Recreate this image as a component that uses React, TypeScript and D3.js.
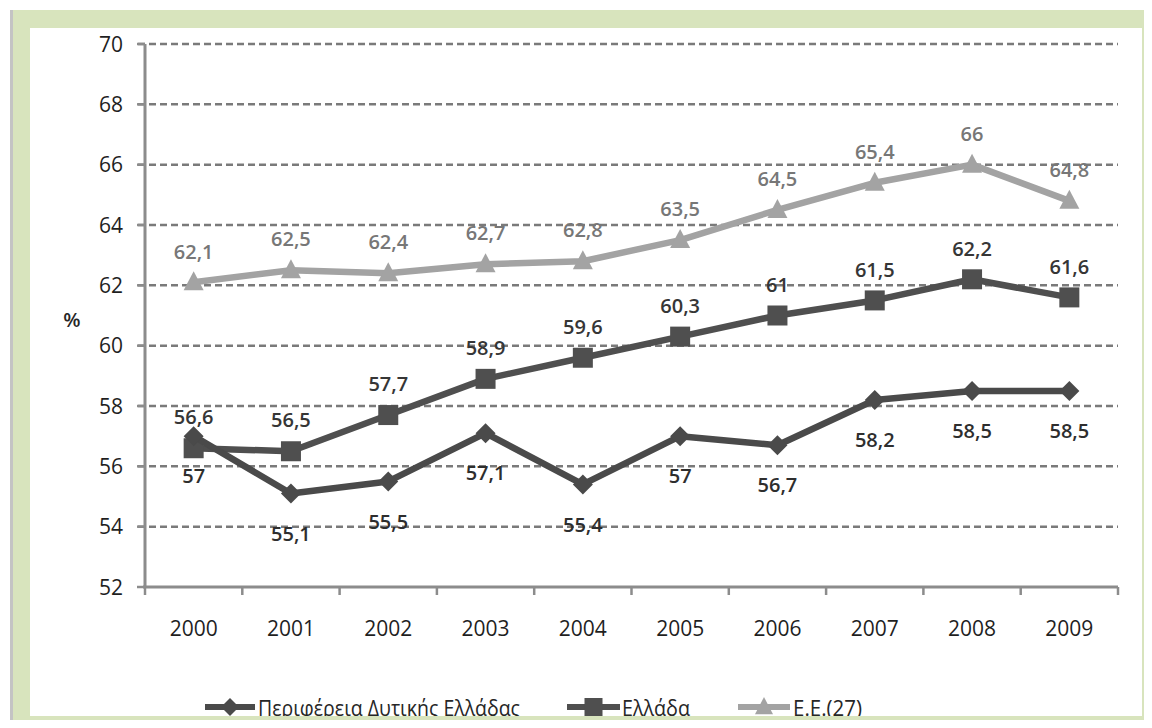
import React, { useEffect, useRef } from 'react';
import * as d3 from 'd3';

const years = ['2000', '2001', '2002', '2003', '2004', '2005', '2006', '2007', '2008', '2009'];
const dytikiValues = [57, 55.1, 55.5, 57.1, 55.4, 57, 56.7, 58.2, 58.5, 58.5];
const elladaValues = [56.6, 56.5, 57.7, 58.9, 59.6, 60.3, 61, 61.5, 62.2, 61.6];
const euValues = [62.1, 62.5, 62.4, 62.7, 62.8, 63.5, 64.5, 65.4, 66, 64.8];
const yTicks = [52, 54, 56, 58, 60, 62, 64, 66, 68, 70];
const seriesNames = ['Περιφέρεια Δυτικής Ελλάδας', 'Ελλάδα', 'Ε.Ε.(27)'];

const FONT = '"Open Sans", "DejaVu Sans", sans-serif';

const App = () => {
  const svgRef = useRef<SVGSVGElement | null>(null);

  useEffect(() => {
    const width = 1152;
    const height = 728;
    const svg = d3.select(svgRef.current);
    svg.selectAll('*').remove();
    svg.attr('width', width).attr('height', height);

    // frame
    svg.append('rect').attr('width', width).attr('height', height).attr('fill', '#ffffff');
    svg.append('rect').attr('x', 10).attr('y', 10).attr('width', width - 10).attr('height', height - 10)
      .attr('fill', '#c4c4c4');
    svg.append('rect').attr('x', 13).attr('y', 10).attr('width', width - 13).attr('height', height - 10)
      .attr('fill', '#d8e4bd');
    svg.append('rect').attr('x', 30).attr('y', 28).attr('width', 1142 - 30).attr('height', 716 - 28)
      .attr('fill', '#ffffff');

    const x = d3.scaleBand().domain(years).range([145, 1118]);
    const y = d3.scaleLinear().domain([52, 70]).range([587, 44]);
    const cx = (d: string) => (x(d) as number) + x.bandwidth() / 2;

    // grid
    svg.append('g').selectAll('line')
      .data(yTicks.filter(t => t !== 52))
      .enter().append('line')
      .attr('x1', 138).attr('x2', 1118)
      .attr('y1', d => y(d)).attr('y2', d => y(d))
      .attr('stroke', '#7a7a7a').attr('stroke-width', 2.5)
      .attr('stroke-dasharray', '7 4');

    // y axis
    const yAxis = svg.append('g');
    yAxis.append('line').attr('x1', 145).attr('x2', 145).attr('y1', y(70)).attr('y2', y(52))
      .attr('stroke', '#8c8c8c').attr('stroke-width', 3);
    yAxis.selectAll('line.tick').data(yTicks).enter().append('line').attr('class', 'tick')
      .attr('x1', 137).attr('x2', 145).attr('y1', d => y(d)).attr('y2', d => y(d))
      .attr('stroke', '#8c8c8c').attr('stroke-width', 2.5);
    yAxis.selectAll('text').data(yTicks).enter().append('text')
      .attr('x', 123).attr('y', d => y(d)).attr('dy', '0.36em')
      .attr('text-anchor', 'end')
      .style('font-family', FONT).style('font-size', '21px').style('fill', '#1f1f1f')
      .text(d => d);

    svg.append('text').attr('x', 72).attr('y', 320).attr('dy', '0.36em')
      .attr('text-anchor', 'middle')
      .style('font-family', FONT).style('font-size', '20px').style('font-weight', 600).style('fill', '#262626')
      .text('%');

    // x axis
    const xAxis = svg.append('g');
    xAxis.append('line').attr('x1', 143).attr('x2', 1118).attr('y1', y(52)).attr('y2', y(52))
      .attr('stroke', '#8c8c8c').attr('stroke-width', 3);
    const bounds = years.map(d => x(d) as number).concat([1118]);
    xAxis.selectAll('line.tick').data(bounds).enter().append('line').attr('class', 'tick')
      .attr('x1', d => d).attr('x2', d => d).attr('y1', y(52)).attr('y2', y(52) + 8)
      .attr('stroke', '#8c8c8c').attr('stroke-width', 2.5);
    xAxis.selectAll('text').data(years).enter().append('text')
      .attr('x', d => cx(d)).attr('y', 636)
      .attr('text-anchor', 'middle')
      .style('font-family', FONT).style('font-size', '21px').style('fill', '#1f1f1f')
      .text(d => d);

    const fmt = (v: number) => String(v).replace('.', ',');
    const line = d3.line<number>().x((_, i) => cx(years[i])).y(d => y(d));

    const series = [
      { values: dytikiValues, color: '#4a4a4a', label: '#2e2e2e', weight: 600, offset: 40, symbol: 'diamond' },
      { values: elladaValues, color: '#4f4f4f', label: '#363636', weight: 600, offset: -31, symbol: 'square' },
      { values: euValues, color: '#a3a3a3', label: '#777777', weight: 600, offset: -31, symbol: 'triangle' },
    ];

    const drawSymbol = (g: any, type: string, px: number, py: number, color: string, s = 1) => {
      if (type === 'square') {
        g.append('rect').attr('x', px - 10 * s).attr('y', py - 10 * s)
          .attr('width', 20 * s).attr('height', 20 * s).attr('fill', color);
      } else if (type === 'diamond') {
        const r = 10 * s;
        g.append('path').attr('d', `M${px},${py - r}L${px + r},${py}L${px},${py + r}L${px - r},${py}Z`)
          .attr('fill', color);
      } else {
        const r = 10 * s;
        g.append('path').attr('d', `M${px},${py - r * 1.1}L${px + r},${py + r * 0.8}L${px - r},${py + r * 0.8}Z`)
          .attr('fill', color);
      }
    };

    [series[1], series[0], series[2]].forEach(se => {
      const g = svg.append('g');
      g.append('path').datum(se.values).attr('d', line)
        .attr('fill', 'none').attr('stroke', se.color).attr('stroke-width', 6.5)
        .attr('stroke-linejoin', 'round');
      se.values.forEach((v, i) => drawSymbol(g, se.symbol, cx(years[i]), y(v), se.color));
    });

    series.forEach(se => {
      svg.append('g').selectAll('text').data(se.values).enter().append('text')
        .attr('x', (_, i) => cx(years[i]))
        .attr('y', d => y(d) + se.offset)
        .attr('dy', '0.36em')
        .attr('text-anchor', 'middle')
        .style('font-family', FONT).style('font-size', '20px')
        .style('font-weight', se.weight).style('fill', se.label)
        .text(d => fmt(d));
    });

    // legend
    const legendItems = [
      { x0: 205, x1: 255, tx: 258, tw: 262 },
      { x0: 567, x1: 620, tx: 622, tw: 68 },
      { x0: 738, x1: 790, tx: 793, tw: 69 },
    ];
    const legend = svg.append('g');
    legendItems.forEach((li, i) => {
      const se = series[i];
      const ly = 707;
      legend.append('line').attr('x1', li.x0).attr('x2', li.x1).attr('y1', ly).attr('y2', ly)
        .attr('stroke', se.color).attr('stroke-width', 6);
      drawSymbol(legend, se.symbol, (li.x0 + li.x1) / 2, ly, se.color, 0.9);
      legend.append('text').attr('x', li.tx).attr('y', 716)
        .attr('textLength', li.tw).attr('lengthAdjust', 'spacingAndGlyphs')
        .style('font-family', FONT).style('font-size', '21px').style('fill', '#262626')
        .text(seriesNames[i]);
    });

    // bottom frame band clips the legend
    svg.append('rect').attr('x', 13).attr('y', 716).attr('width', width - 13).attr('height', height - 716)
      .attr('fill', '#d8e4bd');
  }, []);

  return (
    <div style={{ margin: -8 }}>
      <svg ref={svgRef} style={{ display: 'block' }} />
    </div>
  );
};

export default App;
